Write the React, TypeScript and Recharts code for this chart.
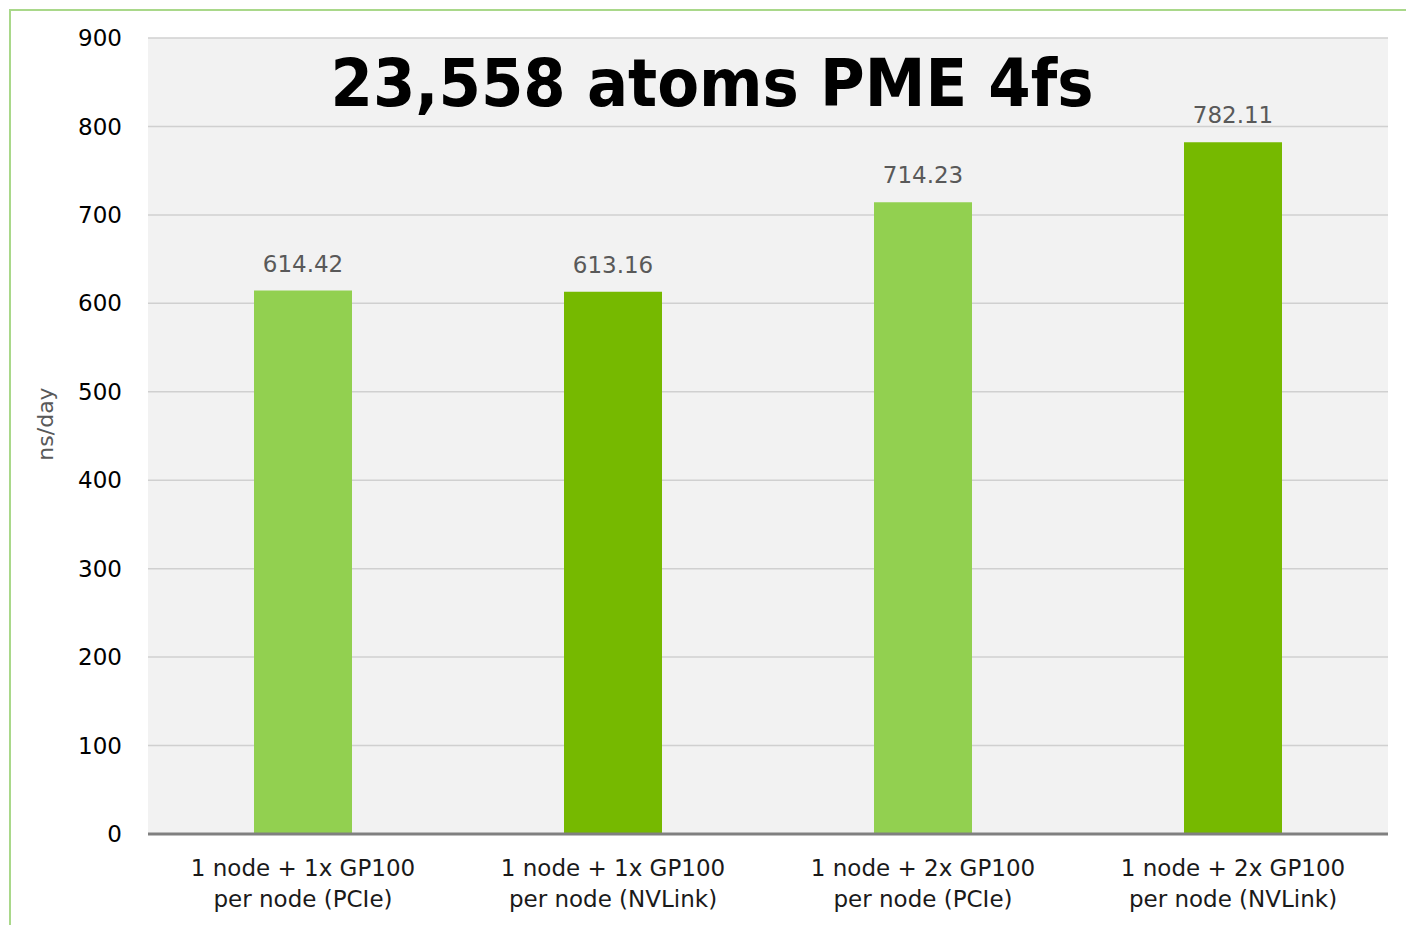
import React from "react";
import { BarChart, Bar, XAxis, YAxis, CartesianGrid, Cell, LabelList, ReferenceLine } from "recharts";

const categories = [
  ["1 node + 1x GP100", "per node (PCIe)"],
  ["1 node + 1x GP100", "per node (NVLink)"],
  ["1 node + 2x GP100", "per node (PCIe)"],
  ["1 node + 2x GP100", "per node (NVLink)"],
];
const values = [614.42, 613.16, 714.23, 782.11];
const barColors = ["#92d050", "#76b900", "#92d050", "#76b900"];
const yTicks = [0, 100, 200, 300, 400, 500, 600, 700, 800, 900];

const data = categories.map((c, i) => ({ name: c.join("|"), value: values[i] }));

const FONT = "'DejaVu Sans', Verdana, sans-serif";

function CategoryTick(props: any) {
  const { x, y, payload } = props;
  const lines = String(payload.value).split("|");
  return (
    <text x={x} y={y} textAnchor="middle" fill="#1a1a1a" fontSize={23} fontFamily={FONT}>
      {lines.map((l, i) => (
        <tspan key={i} x={x} dy={i === 0 ? 34 : 31}>
          {l}
        </tspan>
      ))}
    </text>
  );
}

export default function App() {
  return (
    <div style={{ position: "absolute", left: 0, top: 0, width: 1406, height: 925, background: "#fff" }}>
      <div
        style={{
          position: "absolute",
          left: 9,
          top: 9,
          right: 0,
          bottom: 0,
          borderLeft: "2px solid #a9d88a",
          borderTop: "2px solid #a9d88a",
        }}
      />
      <BarChart
        width={1406}
        height={925}
        data={data}
        margin={{ top: 38, right: 18, bottom: 11, left: 48 }}
        barCategoryGap={106}
        style={{ position: "absolute", left: 0, top: 0 }}
      >
        <CartesianGrid vertical={false} stroke="#d0d0d0" strokeWidth={1.5} fill="#f2f2f2" />
        <XAxis
          dataKey="name"
          height={80}
          axisLine={false}
          tickLine={false}
          interval={0}
          tick={<CategoryTick />}
        />
        <YAxis
          width={100}
          domain={[0, 900]}
          ticks={yTicks}
          axisLine={false}
          tickLine={false}
          tickSize={0}
          tickMargin={26}
          tick={{ fontSize: 23, fill: "#000", fontFamily: FONT }}
        />
        <Bar dataKey="value" isAnimationActive={false}>
          {data.map((d, i) => (
            <Cell key={i} fill={barColors[i]} />
          ))}
          <LabelList
            dataKey="value"
            position="top"
            offset={19}
            formatter={(v: any) => Number(v).toFixed(2)}
            style={{ fontSize: 23, fill: "#595959", fontFamily: FONT }}
          />
        </Bar>
        <ReferenceLine y={0} stroke="#808080" strokeWidth={3} />
        <text
          x={45}
          y={424}
          transform="rotate(-90 45 424)"
          textAnchor="middle"
          dominantBaseline="central"
          fontSize={22}
          fill="#595959"
          fontFamily={FONT}
        >
          ns/day
        </text>
        <text
          x={712}
          y={106}
          textAnchor="middle"
          fontSize={66}
          fontWeight="bold"
          fill="#000"
          fontFamily={FONT}
          textLength={763}
          lengthAdjust="spacingAndGlyphs"
        >
          23,558 atoms PME 4fs
        </text>
      </BarChart>
    </div>
  );
}
